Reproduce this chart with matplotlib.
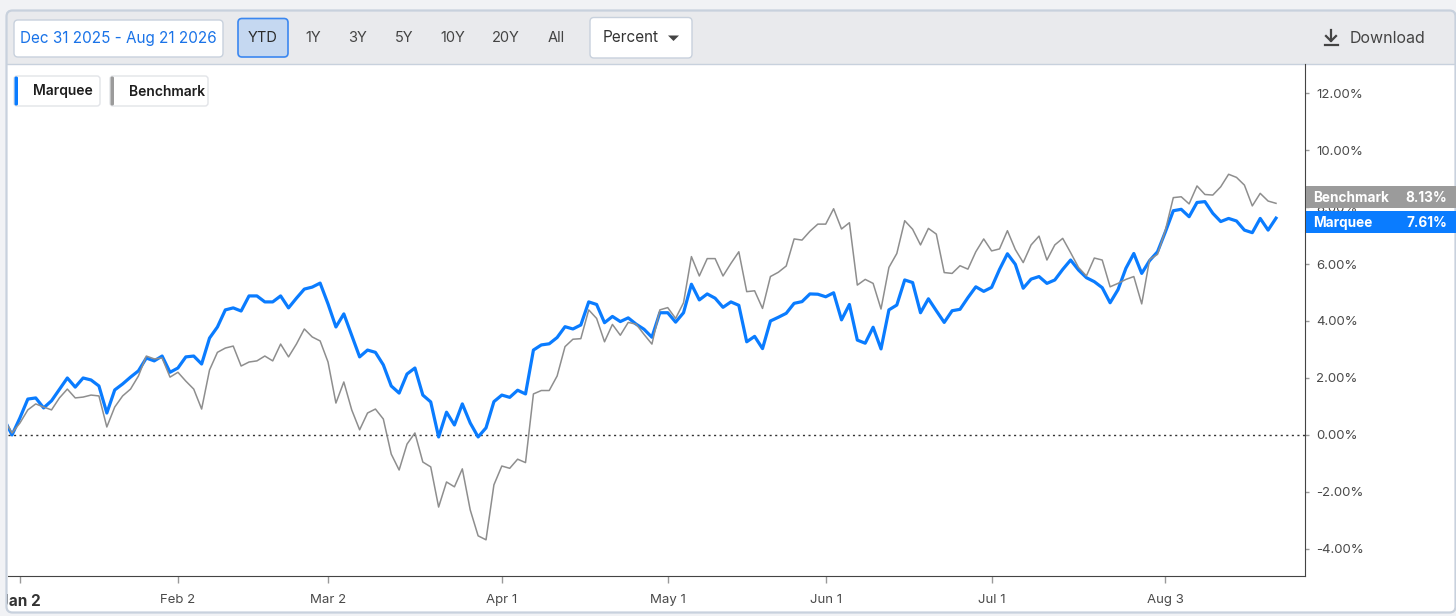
import numpy as np
import matplotlib
matplotlib.use('Agg')
import matplotlib.pyplot as plt
from matplotlib.patches import Rectangle, FancyBboxPatch, Polygon
from matplotlib.ticker import FuncFormatter

plt.rcParams['font.family'] = ['Inter', 'DejaVu Sans']

# cumulative return in %, one value per trading day (index 0 = Dec 31 2025)
marquee = [
    0.55, 0.00, 0.60, 1.26, 1.30, 0.95, 1.20, 1.60, 2.00, 1.68, 2.00,
    1.93, 1.72, 0.77, 1.58, 1.79, 2.03, 2.25, 2.70, 2.60, 2.77,
    2.20, 2.35, 2.74, 2.77, 2.49, 3.40, 3.79, 4.39, 4.46, 4.35,
    4.88, 4.88, 4.67, 4.67, 4.88, 4.46, 4.80, 5.12, 5.19, 5.33,
    4.60, 3.79, 4.25, 3.50, 2.74, 2.98, 2.90, 2.46, 1.72, 1.47,
    2.14, 2.35, 1.40, 1.16, -0.07, 0.80, 0.35, 1.09, 0.42, -0.07,
    0.25, 1.17, 1.40, 1.32, 1.57, 1.44, 2.98, 3.16, 3.20, 3.42,
    3.80, 3.72, 3.86, 4.67, 4.58, 3.94, 4.16, 3.98, 4.11, 3.89,
    3.71, 3.43, 4.29, 4.29, 3.96, 4.29, 5.29, 4.74, 4.95, 4.80,
    4.48, 4.67, 4.55, 3.27, 3.46, 3.03, 4.00, 4.13, 4.27, 4.62,
    4.68, 4.95, 4.94, 4.85, 4.99, 4.04, 4.58, 3.33, 3.22, 3.78,
    3.02, 4.39, 4.56, 5.44, 5.35, 4.29, 4.78, 4.36, 3.95, 4.36,
    4.41, 4.82, 5.20, 5.04, 5.18, 5.81, 6.36, 5.99, 5.15, 5.47,
    5.56, 5.32, 5.44, 5.81, 6.14, 5.79, 5.52, 5.38, 5.17, 4.64,
    5.10, 5.85, 6.37, 5.67, 6.12, 6.43, 7.13, 7.87, 7.92, 7.66,
    8.16, 8.19, 7.78, 7.49, 7.60, 7.51, 7.19, 7.10, 7.60, 7.19,
    7.61,
]
benchmark = [
    0.55, 0.07, 0.42, 0.88, 1.09, 0.98, 0.88, 1.30, 1.61, 1.30, 1.33,
    1.40, 1.37, 0.28, 0.98, 1.37, 1.61, 2.07, 2.77, 2.67, 2.70,
    2.03, 2.20, 1.89, 1.61, 0.91, 2.28, 2.90, 3.05, 3.12, 2.42,
    2.56, 2.60, 2.77, 2.60, 3.19, 2.74, 3.19, 3.72, 3.44, 3.30,
    2.56, 1.12, 1.86, 0.88, 0.18, 0.77, 0.91, 0.56, -0.67, -1.23,
    -0.32, 0.07, -0.95, -1.12, -2.53, -1.65, -1.82, -1.19, -2.63, -3.54,
    -3.68, -1.75, -1.09, -1.17, -0.85, -0.97, 1.44, 1.56, 1.56, 2.07,
    3.10, 3.36, 3.38, 4.39, 4.09, 3.27, 3.88, 3.50, 3.95, 3.89,
    3.53, 3.19, 4.39, 4.47, 4.09, 4.64, 6.26, 5.58, 6.19, 6.19,
    5.58, 6.02, 6.43, 5.03, 5.06, 4.44, 5.56, 5.71, 5.93, 6.88,
    6.84, 7.15, 7.40, 7.40, 7.94, 7.23, 7.45, 5.26, 5.46, 5.32,
    4.42, 5.88, 6.37, 7.52, 7.22, 6.67, 7.25, 7.05, 5.70, 5.67,
    5.94, 5.82, 6.43, 6.88, 6.46, 6.53, 7.17, 6.51, 6.05, 6.67,
    6.98, 6.14, 6.67, 6.90, 6.40, 5.88, 5.58, 6.21, 6.14, 5.20,
    5.32, 5.46, 5.56, 4.60, 6.16, 6.34, 7.19, 8.33, 8.36, 8.11,
    8.74, 8.44, 8.42, 8.71, 9.15, 9.04, 8.77, 8.04, 8.48, 8.21,
    8.13,
]
days = np.arange(-1, len(marquee) - 1)

tick_days = [1, 21, 40, 62, 83, 103, 124, 146]
tick_labels = ['Jan 2', 'Feb 2', 'Mar 2', 'Apr 1', 'May 1', 'Jun 1', 'Jul 1', 'Aug 3']
y_ticks = [-4, -2, 0, 2, 4, 6, 8, 10, 12]

date_range = 'Dec 31 2025 - Aug 21 2026'
range_buttons = ['YTD', '1Y', '3Y', '5Y', '10Y', '20Y', 'All']
series_names = ['Marquee', 'Benchmark']

blue = '#0a7cff'
grey = '#8e8e8e'
tag_grey = '#9b9b9b'
page_bg = '#f1f2f5'
border = '#c8d1dd'

W, H = 1456, 616
fig = plt.figure(figsize=(W / 100, H / 100), dpi=100)
fig.patch.set_facecolor(page_bg)

# background layer in pixel coordinates
bg = fig.add_axes([0, 0, 1, 1], zorder=0)
bg.set_xlim(0, W)
bg.set_ylim(H, 0)
bg.axis('off')
bg.add_patch(FancyBboxPatch((6.5, 10.5), 1449, 602, boxstyle='round,pad=0,rounding_size=6',
                            fc='white', ec='none'))
bg.add_patch(FancyBboxPatch((6.5, 10.5), 1449, 53.5, boxstyle='round,pad=0,rounding_size=6',
                            fc='#e9eaed', ec='none'))
bg.add_patch(Rectangle((6.5, 40), 1449, 24, fc='#e9eaed', ec='none'))
bg.plot([6.5, 1455.5], [64, 64], color=border, lw=1)

# main chart
ax = fig.add_axes([8 / W, 1 - 576 / H, (1305 - 8) / W, (576 - 64) / H], zorder=1)
ax.patch.set_visible(False)
ax.plot(days, marquee, color=blue, lw=2.3, solid_joinstyle='round', zorder=3)
ax.plot(days, benchmark, color=grey, lw=1.1, solid_joinstyle='round', zorder=4)
ax.axhline(0, color='#333333', lw=1, ls=(0, (1.5, 2.5)), zorder=2)
ax.set_xlim(-0.51, 163.67)
ax.set_ylim(-4.95, 13.02)

ax.spines['top'].set_visible(False)
ax.spines['left'].set_visible(False)
ax.spines['right'].set_color('#444444')
ax.spines['bottom'].set_color('#444444')
ax.yaxis.tick_right()
ax.set_yticks(y_ticks)
ax.yaxis.set_major_formatter(FuncFormatter(lambda v, p: f'{v:.2f}%'))
ax.tick_params(axis='y', direction='out', length=3, width=1, color='#999999',
               labelcolor='#4a4a4a', labelsize=9.5, pad=5)
ax.set_xticks(tick_days)
ax.set_xticklabels(tick_labels)
ax.tick_params(axis='x', direction='out', length=5, width=1, color='#999999',
               labelcolor='#4a4a4a', labelsize=9.5, pad=8)
first = ax.get_xticklabels()[0]
first.set_fontweight('bold')
first.set_color('#333333')
first.set_fontsize(11)

# foreground layer: toolbar, legend, value tags
fg = fig.add_axes([0, 0, 1, 1], zorder=2)
fg.set_xlim(0, W)
fg.set_ylim(H, 0)
fg.axis('off')
fg.patch.set_visible(False)

# card edge hides the part of the first date label that runs off the left
fg.add_patch(Rectangle((0, 0), 7, H, fc=page_bg, ec='none'))
fg.add_patch(FancyBboxPatch((6.5, 10.5), 1449, 602, boxstyle='round,pad=0,rounding_size=6',
                            fc='none', ec=border, lw=1.6))

fg.add_patch(FancyBboxPatch((14, 20), 209, 37, boxstyle='round,pad=0,rounding_size=4',
                            fc='white', ec=border, lw=1))
fg.text(118.5, 38.5, date_range, color='#1a73e8', fontsize=11, ha='center', va='center')

btn_x = [263, 313, 358, 404, 453, 506, 556]
fg.add_patch(FancyBboxPatch((238, 18.5), 50, 38.5, boxstyle='round,pad=0,rounding_size=4',
                            fc='#c5d8f1', ec='#3b87f0', lw=1.2))
for bx, lab in zip(btn_x, range_buttons):
    fg.text(bx, 38.5, lab, color='#2b2b2b' if lab == 'YTD' else '#444444', fontsize=10.5,
            ha='center', va='center')

fg.add_patch(FancyBboxPatch((590, 17.5), 102, 40.5, boxstyle='round,pad=0,rounding_size=4',
                            fc='white', ec=border, lw=1))
fg.text(603, 38, 'Percent', color='#333333', fontsize=11, ha='left', va='center')
fg.add_patch(Polygon([[668, 35.5], [679, 35.5], [673.5, 41]], closed=True, fc='#444444', ec='none'))

# download icon and label
fg.plot([1331, 1331], [30, 41], color='#444444', lw=1.6)
fg.plot([1326, 1331, 1336], [36, 41, 36], color='#444444', lw=1.6)
fg.plot([1324.5, 1337.5], [44.5, 44.5], color='#444444', lw=1.6)
fg.text(1350, 38.5, 'Download', color='#444444', fontsize=11.5, ha='left', va='center')

# legend chips
chips = [(14, 86, blue), (110, 98, tag_grey)]
for (cx, cw, col), name in zip(chips, series_names):
    fg.add_patch(FancyBboxPatch((cx, 76), cw, 30, boxstyle='round,pad=0,rounding_size=3',
                                fc='white', ec='#e2e4e8', lw=1))
    fg.add_patch(FancyBboxPatch((cx + 0.5, 76.5), 3.5, 29, boxstyle='round,pad=0,rounding_size=1.5',
                                fc=col, ec='none'))
    fg.text(cx + 19, 91.5, name, color='#1e1e1e', fontsize=10, fontweight='semibold',
            ha='left', va='center')

# last-value tags on the right axis
def data_to_px(val):
    return H - ax.transData.transform((0, val))[1]

tags = [
    ('Benchmark', benchmark[-1], tag_grey, -6),
    ('Marquee', marquee[-1], blue, 4),
]
for name, val, col, shift in tags:
    yc = data_to_px(val) + shift
    fg.add_patch(Rectangle((1306, yc - 11), 150, 22, fc=col, ec='none'))
    fg.text(1313, yc + 0.5, name, color='white', fontsize=9.8, fontweight='bold',
            ha='left', va='center')
    fg.text(1447, yc + 0.5, f'{val:.2f}%', color='white', fontsize=9.8, fontweight='bold',
            ha='right', va='center')

fig.savefig('out.png', dpi=100, facecolor=fig.get_facecolor())
